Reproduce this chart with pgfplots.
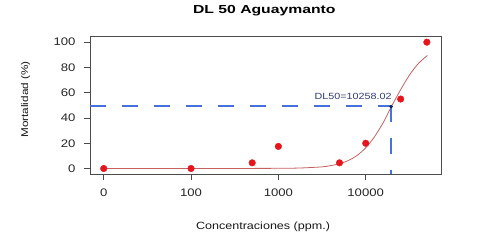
\documentclass[border=0pt]{standalone}
\usepackage{pgfplots}
\pgfplotsset{compat=1.18}
\usepackage{fontspec}
\setmainfont{Liberation Sans}[FakeStretch=1.2]
\newfontfamily\titlefont{Liberation Sans}[FakeStretch=1.35]
\definecolor{ptred}{RGB}{232,20,28}
\definecolor{curvecol}{RGB}{196,96,96}
\definecolor{dashblue}{RGB}{70,115,215}
\definecolor{navy}{RGB}{20,30,90}
\definecolor{lblblue}{RGB}{50,60,120}
\begin{document}
\begin{tikzpicture}
\useasboundingbox (0,0) rectangle (481bp,241bp);
\begin{axis}[
  at={(90bp,67bp)}, anchor=south west,
  scale only axis, width=351bp, height=138bp,
  xmin=0.843, xmax=4.862, ymin=-4.35, ymax=104.9,
  xtick={1,2,3,4}, xticklabels={0,100,1000,10000},
  ytick={0,20,40,60,80,100},
  tick align=outside, major tick length=6bp,
  xtick pos=lower, ytick pos=left,
  axis line style={draw=black!70, line width=0.8pt},
  tick style={draw=black!70, line width=0.8pt},
  ticklabel style={font=\fontsize{11}{13}\selectfont, text=black!85},
  xticklabel style={yshift=-5bp},
  yticklabel style={xshift=-5bp},
  /pgf/number format/assume math mode=true,
  title={DL 50 Aguaymanto},
  title style={at={(axis description cs:0.4966,1.123)}, anchor=base,
    font=\titlefont\bfseries\fontsize{11.7}{14}\selectfont},
  xlabel={Concentraciones (ppm.)},
  every axis x label/.style={at={(axis description cs:0.493,-0.3986)}, anchor=base,
    font=\fontsize{10.5}{12}\selectfont, text=black!90},
  ylabel={Mortalidad (\%)},
  every axis y label/.style={at={(axis description cs:-0.1838,0.54)}, anchor=center, rotate=90,
    font=\fontsize{9.8}{12}\selectfont, text=black!90},
  clip=true,
]
% fitted curve
\addplot[curvecol, line width=0.8pt, smooth] coordinates {
 (1,0) (2,0) (2.5,0.05) (3,0.15) (3.25,0.4) (3.5,1.3) (3.6,2.3) (3.7,3.8)
 (3.8,6.3) (3.9,10.3) (4.0,16.4) (4.1,25.1) (4.2,36.3) (4.29,48.5)
 (4.4,62.4) (4.5,73.9) (4.6,82.9) (4.706,89.5)};
% DL50 guide lines
\addplot[draw=dashblue, line width=2pt, dash pattern=on 16bp off 16bp] coordinates {(0.843,49.3) (4.29,49.3)};
\addplot[draw=dashblue, line width=1.3pt, dash pattern=on 16bp off 16bp] coordinates {(4.29,49.3) (4.29,-4.35)};
% observed points
\addplot[only marks, mark=*, mark size=3.3bp, ptred, mark options={draw=ptred, fill=ptred}] coordinates {
 (1,0) (2,0) (2.70,4.5) (3.0,17.5) (3.70,4.5) (4.0,20) (4.40,55) (4.70,100)};
% DL50 point
\addplot[only marks, mark=*, mark size=1.6bp, navy] coordinates {(4.29,49)};
\node[anchor=base, text=lblblue, font=\fontsize{9}{11}\selectfont] at (axis cs:3.855,54.5) {DL50=10258.02};
\end{axis}
\end{tikzpicture}
\end{document}
